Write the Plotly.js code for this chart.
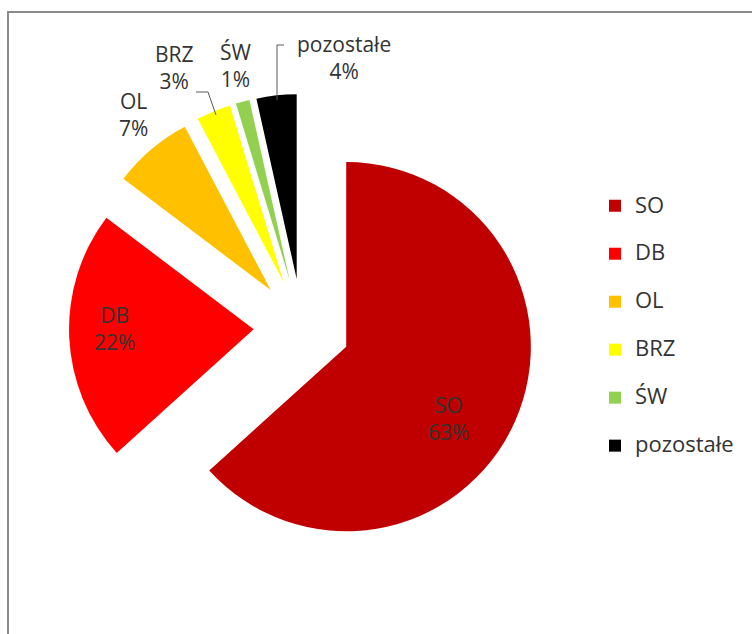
<!DOCTYPE html>
<html>
<head>
<meta charset="utf-8">
<script src="https://cdn.plot.ly/plotly-3.0.1.min.js"></script>
<style>html,body{margin:0;padding:0;background:#fff;}#chart{width:752px;height:634px;}</style>
</head>
<body>
<div id="chart"></div>
<script>
// ---- data ----
const categories = ['SO', 'DB', 'OL', 'BRZ', 'ŚW', 'pozostałe'];
const shares = [63.3, 22.0, 7.0, 3.0, 1.2, 3.5];
const percentLabels = ['63%', '22%', '7%', '3%', '1%', '4%'];
const colors = ['#C00000', '#FF0000', '#FFC000', '#FFFF00', '#92D050', '#000000'];

// ---- layout helpers (pixel -> paper) ----
const W = 752, H = 634;
const px = x => x / W;
const py = y => 1 - y / H;

const FONT = 'Open Sans, Noto Sans, sans-serif';
const TXT = '#333333';

// label anchor positions in pixels (centre of the two-line block)
const labelPos = [[448, 418], [114, 328], [133, 114], [174, 67], [236, 65], [344, 58]];

const annotations = categories.map((c, i) => ({
  xref: 'paper', yref: 'paper',
  x: px(labelPos[i][0]), y: py(labelPos[i][1]),
  xanchor: 'center', yanchor: 'middle',
  text: c + '<br>' + percentLabels[i],
  showarrow: false,
  font: {family: FONT, size: 21, color: TXT}
}));

const pathPx = pts => pts.map((p, i) => (i ? 'L' : 'M') + px(p[0]) + ',' + py(p[1])).join(' ');

const shapes = [
  {type: 'rect', xref: 'paper', yref: 'paper', x0: px(8), y0: -0.2, x1: 1.2, y1: py(12),
   line: {color: '#8a8a8a', width: 2}, fillcolor: 'rgba(0,0,0,0)', layer: 'below'},
  {type: 'path', xref: 'paper', yref: 'paper', path: pathPx([[196, 92], [208, 92], [216, 115]]),
   line: {color: '#595959', width: 1}},
  {type: 'path', xref: 'paper', yref: 'paper', path: pathPx([[284, 45], [277, 45], [277, 100]]),
   line: {color: '#595959', width: 1}}
];

const trace = {
  type: 'pie',
  labels: categories.map(c => '<span style="font-size:22px">' + c + '</span><br> '),
  values: shares,
  sort: false,
  direction: 'clockwise',
  rotation: 0,
  pull: shares.map(() => 0.262),
  marker: {colors: colors, line: {width: 0}},
  textinfo: 'none',
  hoverinfo: 'none',
  domain: {x: [px(69), px(535)], y: [py(560), py(94)]}
};

const layout = {
  width: W, height: H,
  margin: {l: 0, r: 0, t: 0, b: 0},
  paper_bgcolor: '#ffffff',
  showlegend: true,
  legend: {
    x: px(595), xanchor: 'left',
    y: py(188), yanchor: 'top',
    valign: 'top',
    font: {family: FONT, size: 17.3, color: TXT},
    bgcolor: 'rgba(0,0,0,0)', borderwidth: 0
  },
  annotations: annotations,
  shapes: shapes
};

Plotly.newPlot('chart', [trace], layout, {displayModeBar: false, staticPlot: true});
</script>
</body>
</html>
